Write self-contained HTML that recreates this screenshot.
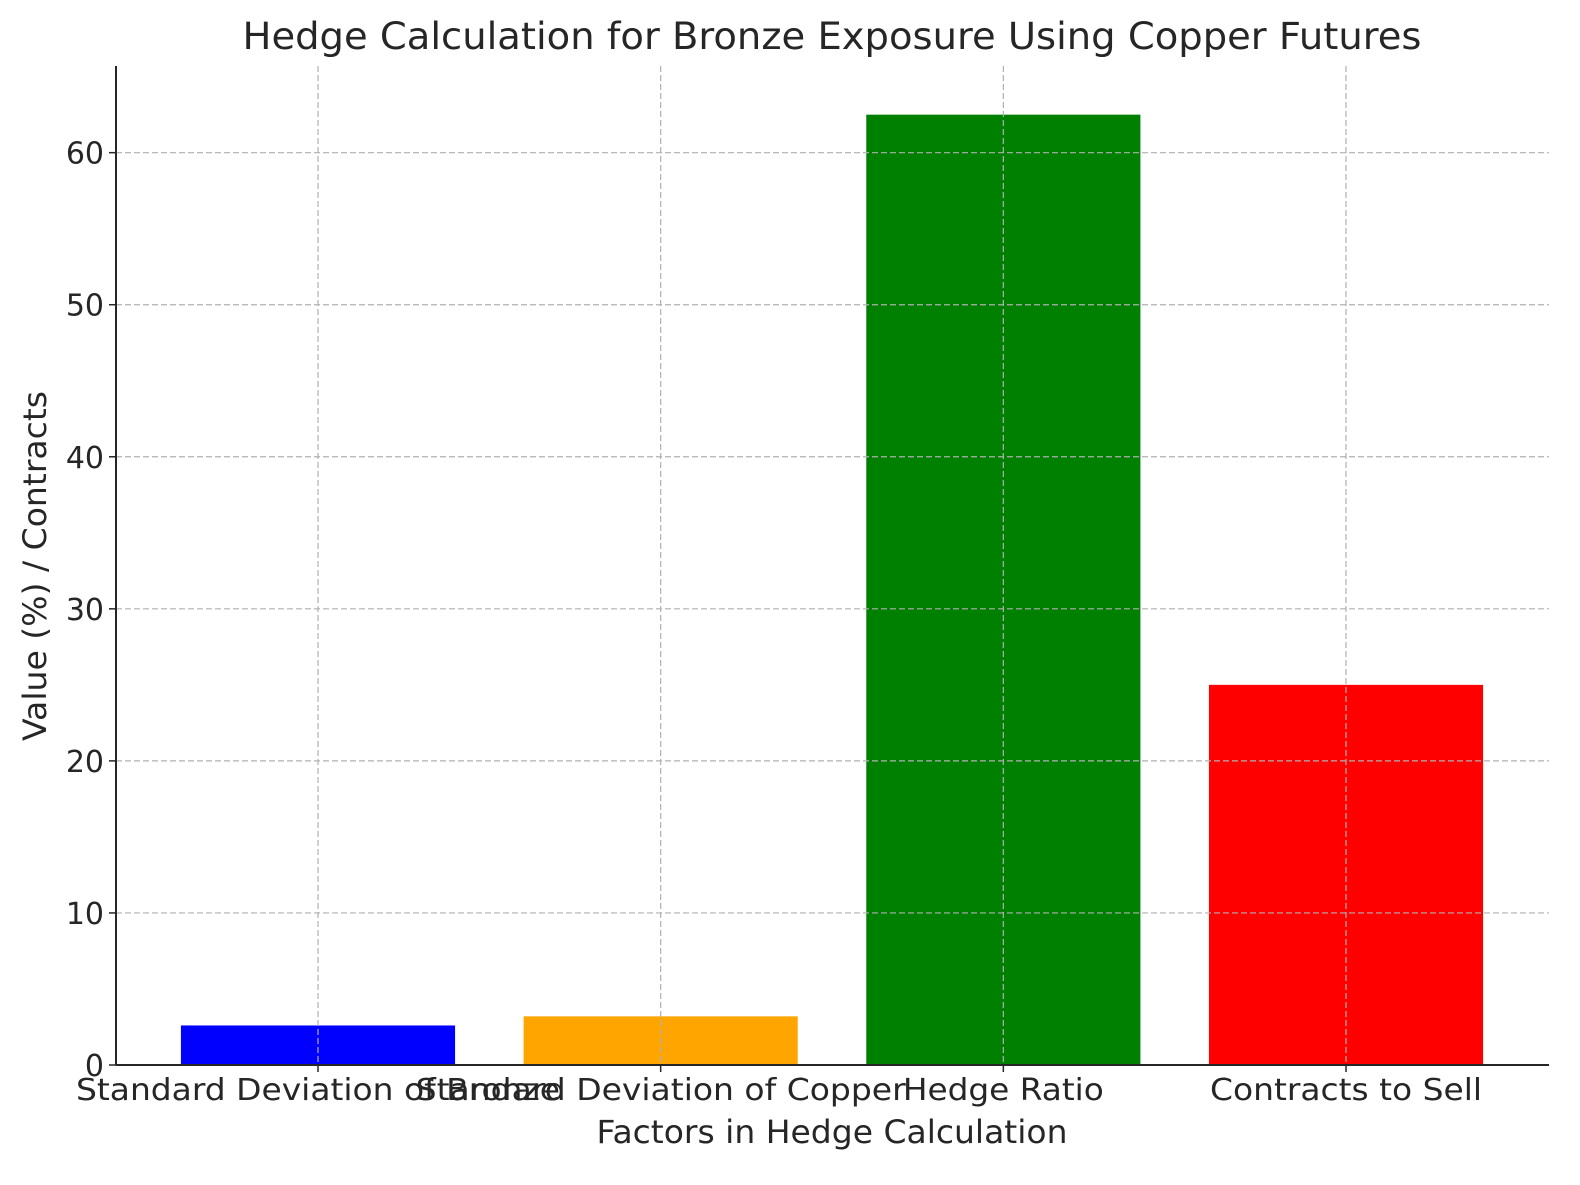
<!DOCTYPE html>
<html><head><meta charset="utf-8"><style>
body{margin:0;background:#fff;}
svg text{font-family:"DejaVu Sans","Liberation Sans",sans-serif;fill:#262626;}
</style></head><body>
<svg id="chart" width="1580" height="1180">
<text x="832" y="49" font-size="37" text-anchor="middle" textLength="1179" lengthAdjust="spacingAndGlyphs">Hedge Calculation for Bronze Exposure Using Copper Futures</text>
<text x="832" y="1143" font-size="32" text-anchor="middle" textLength="471" lengthAdjust="spacingAndGlyphs">Factors in Hedge Calculation</text>
<text transform="translate(46,566) rotate(-90)" font-size="32" text-anchor="middle" textLength="350" lengthAdjust="spacingAndGlyphs">Value (%) / Contracts</text>
<g id="bars"></g><g id="grid"></g><g id="axes"></g>
</svg>
<script>
const categories=["Standard Deviation of Bronze","Standard Deviation of Copper","Hedge Ratio","Contracts to Sell"];
const values=[2.6,3.2,62.5,25];
const colors=["#0000ff","#ffa500","#008000","#ff0000"];
const yTicks=[0,10,20,30,40,50,60];
const labelWidths=[484,490,201,272];
const L=116,R=1549,B=1065,T=66;
const yMax=65.7;
const y=v=>B-(v/yMax)*(B-T);
const step=342.67;
const x=i=>318+i*step;
const NS="http://www.w3.org/2000/svg";
function mk(tag,attrs,parent){const e=document.createElementNS(NS,tag);for(const k in attrs)e.setAttribute(k,attrs[k]);parent.appendChild(e);return e;}
const grid=document.getElementById('grid'),bars=document.getElementById('bars'),axes=document.getElementById('axes');
yTicks.forEach(t=>{
 const g=mk('line',{x1:L,x2:R,y1:y(t),y2:y(t),stroke:"#b0b0b0","stroke-width":1.2,"stroke-dasharray":"6,3"},grid);
 
 
 const tk=mk('line',{x1:L-7,x2:L,y1:y(t),y2:y(t),stroke:"#262626","stroke-width":1.5},axes);
 
 
 const tx=mk('text',{x:L-12,y:y(t)+11,"font-size":30,"text-anchor":"end"},axes);
 tx.textContent=t;
 
 
});
categories.forEach((c,i)=>{
 const g=mk('line',{x1:x(i),x2:x(i),y1:T,y2:B,stroke:"#b0b0b0","stroke-width":1.2,"stroke-dasharray":"6,3"},grid);
 
 
 const w=step*0.8;
 const r=mk('rect',{x:x(i)-w/2,y:y(values[i]),width:w,height:B-y(values[i]),fill:colors[i]},bars);
 
 
 const tk=mk('line',{x1:x(i),x2:x(i),y1:B,y2:B+7,stroke:"#262626","stroke-width":1.5},axes);
 
 
 const tx=mk('text',{x:x(i),y:B+35,"font-size":30,"text-anchor":"middle"},axes);
 tx.textContent=c;
 tx.setAttribute('textLength',labelWidths[i]);
 tx.setAttribute('lengthAdjust','spacingAndGlyphs');
 
 
});
const ax1=mk('line',{x1:L,x2:L,y1:T,y2:B,stroke:"#262626","stroke-width":2},axes);


const ax2=mk('line',{x1:L,x2:R,y1:B,y2:B,stroke:"#262626","stroke-width":2},axes);


</script>
</body></html>
